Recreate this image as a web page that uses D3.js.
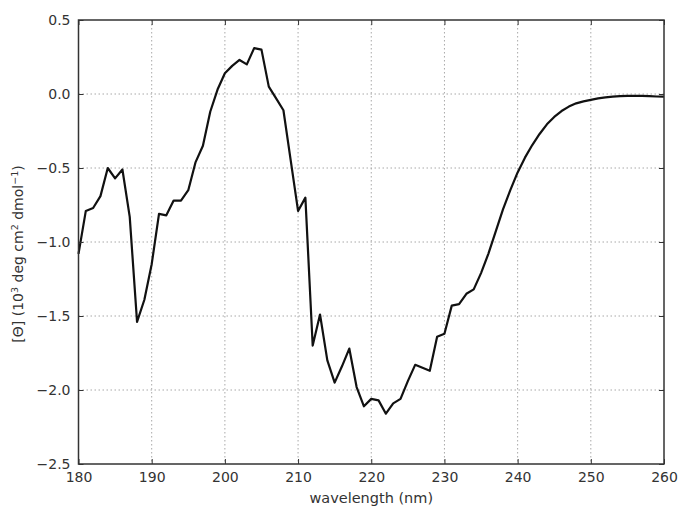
<!DOCTYPE html>
<html>
<head>
<meta charset="utf-8">
<script src="https://cdn.jsdelivr.net/npm/d3@7"></script>
<style>
  body { margin: 0; background: #fff; }
  svg { display: block; font-family: "DejaVu Sans", sans-serif; }
</style>
</head>
<body>
<svg id="chart" width="678" height="506"></svg>
<script>
// CD spectrum: mean residue ellipticity vs wavelength (1 nm steps)
const wavelengths = d3.range(180, 261);
const ellipticity = [
  -1.08, -0.79, -0.77, -0.69, -0.50, -0.57, -0.51, -0.83, -1.54, -1.39,
  -1.15, -0.81, -0.82, -0.72, -0.72, -0.65, -0.46, -0.35, -0.12, 0.03,
  0.14, 0.19, 0.23, 0.20, 0.31, 0.30, 0.05, -0.03, -0.11, -0.45,
  -0.79, -0.70, -1.70, -1.49, -1.80, -1.95, -1.84, -1.72, -1.98, -2.11,
  -2.06, -2.07, -2.16, -2.09, -2.06, -1.94, -1.83, -1.85, -1.87, -1.64,
  -1.62, -1.43, -1.42, -1.35, -1.32, -1.21, -1.08, -0.93, -0.78, -0.65,
  -0.53, -0.43, -0.345, -0.27, -0.205, -0.155, -0.115, -0.085, -0.063, -0.05,
  -0.04, -0.03, -0.023, -0.018, -0.015, -0.013, -0.012, -0.013, -0.015, -0.017,
  -0.018
];
const xTicks = [180, 190, 200, 210, 220, 230, 240, 250, 260];
const yTicks = [0.5, 0.0, -0.5, -1.0, -1.5, -2.0, -2.5];

const svg = d3.select("#chart");
const plotLeft = 78.5, plotRight = 664, plotTop = 20, plotBottom = 464;

const x = d3.scaleLinear().domain([180, 260]).range([plotLeft, plotRight]);
const y = d3.scaleLinear().domain([-2.5, 0.5]).range([plotBottom, plotTop]);

const fmtY = v => d3.format(".1f")(v).replace("-", "\u2212");

// dotted grid
const grid = svg.append("g")
  .attr("stroke", "#a8a8a8")
  .attr("stroke-width", 1)
  .attr("stroke-dasharray", "1.5,2.5");
grid.selectAll("line.gx").data(xTicks.slice(1, -1)).join("line")
  .attr("x1", d => x(d)).attr("x2", d => x(d))
  .attr("y1", plotTop).attr("y2", plotBottom);
grid.selectAll("line.gy").data(yTicks.slice(1, -1)).join("line")
  .attr("x1", plotLeft).attr("x2", plotRight)
  .attr("y1", d => y(d)).attr("y2", d => y(d));

// data line
const line = d3.line()
  .x((d, i) => x(wavelengths[i]))
  .y(d => y(d));
svg.append("path")
  .datum(ellipticity)
  .attr("fill", "none")
  .attr("stroke", "#111")
  .attr("stroke-width", 2.2)
  .attr("stroke-linejoin", "round")
  .attr("d", line);

// axes with inward ticks on all sides
const tickLen = 5;
const axB = d3.axisBottom(x).tickValues(xTicks).tickSizeInner(-tickLen).tickSizeOuter(0).tickPadding(8).tickFormat(d3.format("d"));
const axT = d3.axisTop(x).tickValues(xTicks).tickSizeInner(-tickLen).tickSizeOuter(0).tickFormat("");
const axL = d3.axisLeft(y).tickValues(yTicks).tickSizeInner(-tickLen).tickSizeOuter(0).tickPadding(8).tickFormat(fmtY);
const axR = d3.axisRight(y).tickValues(yTicks).tickSizeInner(-tickLen).tickSizeOuter(0).tickFormat("");

function styleAxis(g) {
  g.select(".domain").remove();
  g.selectAll(".tick line").attr("stroke", "#333").attr("stroke-width", 1);
  g.selectAll(".tick text").attr("fill", "#333").style("font-size", "14px")
    .style("font-family", "'DejaVu Sans', sans-serif");
}
svg.append("g").attr("transform", `translate(0,${plotBottom})`).call(axB).call(styleAxis);
svg.append("g").attr("transform", `translate(0,${plotTop})`).call(axT).call(styleAxis);
svg.append("g").attr("transform", `translate(${plotLeft},0)`).call(axL).call(styleAxis);
svg.append("g").attr("transform", `translate(${plotRight},0)`).call(axR).call(styleAxis);

// frame
svg.append("rect")
  .attr("x", plotLeft).attr("y", plotTop)
  .attr("width", plotRight - plotLeft).attr("height", plotBottom - plotTop)
  .attr("fill", "none").attr("stroke", "#333").attr("stroke-width", 1.5);

// axis labels
svg.append("text")
  .attr("x", (plotLeft + plotRight) / 2).attr("y", 503)
  .attr("text-anchor", "middle")
  .attr("fill", "#333").style("font-size", "14.5px")
  .text("wavelength (nm)");

const yl = svg.append("text")
  .attr("transform", `translate(23,${(plotTop + plotBottom) / 2 + 12}) rotate(-90)`)
  .attr("text-anchor", "middle")
  .attr("fill", "#333").style("font-size", "14px");
yl.append("tspan").text("[\u0398] (10");
yl.append("tspan").attr("dy", -5).style("font-size", "9.5px").text("3");
yl.append("tspan").attr("dy", 5).text(" deg cm");
yl.append("tspan").attr("dy", -5).style("font-size", "9.5px").text("2");
yl.append("tspan").attr("dy", 5).text(" dmol");
yl.append("tspan").attr("dy", -5).style("font-size", "9.5px").text("\u22121");
yl.append("tspan").attr("dy", 5).text(")");
</script>
</body>
</html>
